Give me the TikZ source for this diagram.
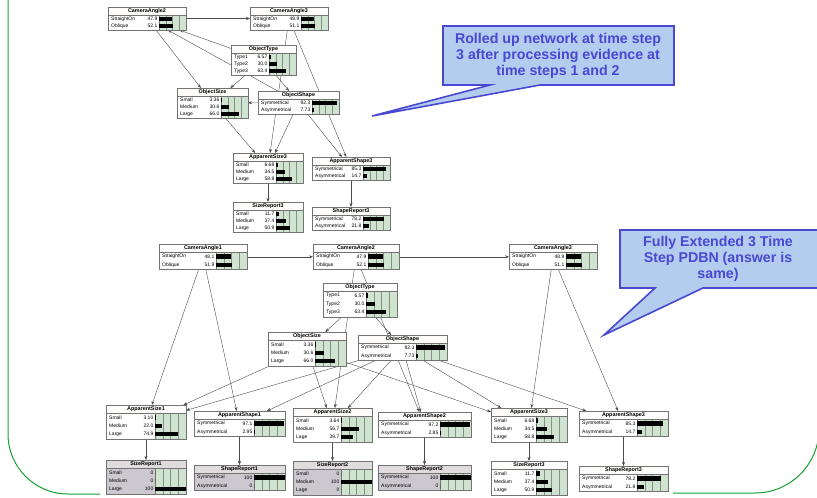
\documentclass[tikz,border=0pt]{standalone}
\usepackage{fontspec}
\setmainfont{Liberation Sans}
\usetikzlibrary{arrows.meta,backgrounds}

\definecolor{bngreen}{RGB}{206,228,206}
\definecolor{bngrey}{RGB}{204,200,208}
\definecolor{bntop}{RGB}{255,250,244}
\definecolor{notefill}{RGB}{180,204,238}
\definecolor{noteblue}{RGB}{72,72,210}
\definecolor{slidegreen}{RGB}{20,160,50}

\tikzset{
  bnframe/.style={draw=black!55, line width=0.5pt},
  bngrid/.style={draw=black!45, line width=0.3pt},
  bntitle/.style={font=\bfseries\fontsize{5.4}{6}\selectfont, inner sep=0pt},
  bnlab/.style={font=\fontsize{5}{5.5}\selectfont, inner sep=0pt},
  link/.style={-{Stealth[length=4pt,width=3pt]}, draw=black!70, line width=0.4pt},
  note/.style={draw=noteblue, fill=notefill, line width=1.6pt, line join=miter},
  notetext/.style={font=\bfseries\fontsize{14.2}{15.8}\selectfont, text=noteblue, align=center},
}

\newcommand{\bnbox}[7][white]{%
  \foreach \lab/\val [count=\n] in {#7} {\xdef\bnN{\n}}%
  \pgfmathsetmacro\bnH{\bnT+\bnN*\bnR+1}%
  \pgfmathsetmacro\bnX{#3+#5-\bnB}%
  \node[minimum width=#5pt, minimum height=\bnH pt, inner sep=0pt, outer sep=0pt, anchor=north west] (#2) at (#3,#4) {};
  \fill[#1!60!bntop] (#3,#4) rectangle (#3+#5,#4+\bnT);
  \fill[#1] (#3,#4+\bnT) rectangle (\bnX,#4+\bnH);
  \fill[bngreen] (\bnX,#4+\bnT) rectangle (#3+#5,#4+\bnH);
  \foreach \k in {1,2,3} \draw[bngrid] (\bnX+\k*\bnB/4,#4+\bnT) -- (\bnX+\k*\bnB/4,#4+\bnH);
  \draw[bnframe] (#3,#4+\bnT) -- (#3+#5,#4+\bnT) (\bnX,#4+\bnT) -- (\bnX,#4+\bnH);
  \node[bntitle] at (#3+#5/2,#4+\bnT/2) {#6};
  \foreach \lab/\val [count=\n] in {#7} {
    \pgfmathsetmacro\bnY{#4+\bnT+0.5+(\n-0.5)*\bnR}
    \node[bnlab, anchor=west] at (#3+3,\bnY) {\lab};
    \node[bnlab, anchor=east] at (\bnX-1.5,\bnY) {\val};
    \fill (\bnX,\bnY-0.27*\bnR) rectangle (\bnX+\val*\bnB/100,\bnY+0.27*\bnR);
  }
  \draw[bnframe] (#2.north west) rectangle (#2.south east);
}

\begin{document}
\begin{tikzpicture}[x=1pt, y=-1pt]
  \useasboundingbox (0,0) rectangle (817,498);
  \clip (0,0) rectangle (817,498);

  \def\bnT{8}\def\bnR{7}\def\bnB{27}
  \bnbox{tca2}{108}{7}{78}{CameraAngle2}{StraightOn/47.9, Oblique/52.1}
  \bnbox{tca3}{250}{7}{78}{CameraAngle3}{StraightOn/48.9, Oblique/51.1}
  \bnbox{tot}{231}{45}{65}{ObjectType}{Type1/6.57, Type2/30.0, Type3/63.4}
  \bnbox{tosz}{177}{88}{71}{ObjectSize}{Small/3.36, Medium/30.6, Large/66.0}
  \bnbox{tosh}{258}{91}{81}{ObjectShape}{Symmetrical/92.3, Asymmetrical/7.73}
  \bnbox{tas3}{233}{153}{70}{ApparentSize3}{Small/6.68, Medium/34.5, Large/58.8}
  \bnbox{tash3}{312}{157}{78}{ApparentShape3}{Symmetrical/85.3, Asymmetrical/14.7}
  \bnbox{tsr3}{233}{202}{70}{SizeReport3}{Small/11.7, Medium/37.4, Large/50.9}
  \bnbox{tshr3}{312}{207}{78}{ShapeReport3}{Symmetrical/78.2, Asymmetrical/21.8}

  \def\bnT{8}\def\bnR{8.3}\def\bnB{31}
  \bnbox{ca1}{159}{244}{88}{CameraAngle1}{StraightOn/48.1, Oblique/51.9}
  \bnbox{ca2}{313}{244}{86}{CameraAngle2}{StraightOn/47.9, Oblique/52.1}
  \bnbox{ca3}{509}{244}{88}{CameraAngle3}{StraightOn/48.9, Oblique/51.1}
  \bnbox{ot}{323}{283}{74}{ObjectType}{Type1/6.57, Type2/30.0, Type3/63.4}
  \bnbox{osz}{268}{332}{78}{ObjectSize}{Small/3.36, Medium/30.6, Large/66.0}
  \bnbox{osh}{358}{335}{89}{ObjectShape}{Symmetrical/92.3, Asymmetrical/7.73}
  \bnbox{as1}{106}{405}{80}{ApparentSize1}{Small/3.10, Medium/22.0, Large/74.9}
  \bnbox{ash1}{194}{411}{91}{ApparentShape1}{Symmetrical/97.1, Asymmetrical/2.95}
  \bnbox{as2}{293}{408}{79}{ApparentSize2}{Small/3.64, Medium/56.7, Lage/39.7}
  \bnbox{ash2}{378}{412}{93}{ApparentShape2}{Symmetrical/97.2, Asymmetrical/2.85}
  \bnbox{as3}{491}{408}{76}{ApparentSize3}{Small/6.68, Medium/34.5, Large/58.8}
  \bnbox{ash3}{579}{411}{89}{ApparentShape3}{Symmetrical/85.3, Asymmetrical/14.7}
  \bnbox[bngrey]{sr1}{106}{460}{80}{SizeReport1}{Small/0, Medium/0, Large/100}
  \bnbox[bngrey]{shr1}{194}{465}{91}{ShapeReport1}{Symmetrical/100, Asymmetrical/0}
  \bnbox[bngrey]{sr2}{293}{461}{79}{SizeReport2}{Small/0, Medium/100, Lage/0}
  \bnbox[bngrey]{shr2}{378}{465}{93}{ShapeReport2}{Symmetrical/100, Asymmetrical/0}
  \bnbox{sr3}{491}{461}{76}{SizeReport3}{Small/11.7, Medium/37.4, Large/50.9}
  \bnbox{shr3}{579}{466}{89}{ShapeReport3}{Symmetrical/78.2, Asymmetrical/21.8}

  \begin{scope}[on background layer]
    \draw[link] (tca2) -- (tca3);
    \draw[link] (tot) -- (tca2);
    \draw[link] (tosh) -- (tca2);
    \draw[link] (tca2) -- (tosz);
    \draw[link] (tot) -- (tosz);
    \draw[link] (tot) -- (tosh);
    \draw[link] (tosh) -- (tosz);
    \draw[link] (tca3) -- (tas3);
    \draw[link] (tca3) -- (tash3);
    \draw[link] (tosz) -- (tas3);
    \draw[link] (tosh) -- (tas3);
    \draw[link] (tosh) -- (tash3);
    \draw[link] (tas3) -- (tsr3);
    \draw[link] (tash3) -- (tshr3);

    \draw[link] (ca1) -- (ca2);
    \draw[link] (ca2) -- (ca3);
    \draw[link] (ot) -- (osz);
    \draw[link] (ot) -- (osh);
    \draw[link] (ca1) -- (as1);
    \draw[link] (ca1) -- (ash1);
    \draw[link] (ca2) -- (as2);
    \draw[link] (ca2) -- (ash2);
    \draw[link] (ca3) -- (as3);
    \draw[link] (ca3) -- (ash3);
    \draw[link] (osz) -- (as1);
    \draw[link] (osz) -- (as2);
    \draw[link] (osz) -- (as3);
    \draw[link] (osh) -- (as1);
    \draw[link] (osh) -- (as2);
    \draw[link] (osh) -- (as3);
    \draw[link] (osh) -- (ash1);
    \draw[link] (osh) -- (ash2);
    \draw[link] (osh) -- (ash3);
    \draw[link] (as1) -- (sr1);
    \draw[link] (ash1) -- (shr1);
    \draw[link] (as2) -- (sr2);
    \draw[link] (ash2) -- (shr2);
    \draw[link] (as3) -- (sr3);
    \draw[link] (ash3) -- (shr3);
  \end{scope}

  \draw[note] (443,26) -- (674,26) -- (674,85) -- (540,85) -- (372,116) -- (490,85) -- (443,85) -- cycle;
  \node[notetext] (rolled) at (558,56) {Rolled up network at time step\\3 after processing evidence at\\time steps 1 and 2};
  \draw[note] (620,230) -- (830,230) -- (830,288) -- (703,288) -- (604,335) -- (655,288) -- (620,288) -- cycle;
  \node[notetext] (extended) at (718,259) {Fully Extended 3 Time\\Step PDBN (answer is\\same)};

  \draw[slidegreen, line width=1pt] (8,0) -- (8,434) arc[start angle=180, end angle=90, radius=60] -- (100,494);
  \draw[slidegreen, line width=1pt] (673,493) -- (755,493) arc[start angle=90, end angle=0, radius=64] -- (819,0);
\end{tikzpicture}
\end{document}
